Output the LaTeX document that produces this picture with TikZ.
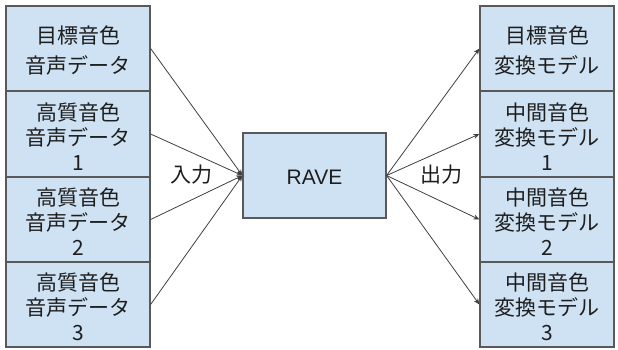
\documentclass[tikz,border=0pt]{standalone}
\usepackage{fontspec}
\newfontfamily\jpfont{Noto Sans CJK JP}
\newfontfamily\latinfont{Liberation Sans}
\usetikzlibrary{arrows.meta}
\definecolor{boxfill}{HTML}{CFE2F3}
\definecolor{boxline}{HTML}{595959}
\definecolor{txt}{HTML}{1E1E1E}
\definecolor{wire}{HTML}{404040}
\tikzset{
  cell/.style={draw=boxline, line width=1.2pt, fill=boxfill, inner sep=0pt},
  caption/.style={align=center, inner sep=0pt, text=txt, yshift=-2.5pt,
    font=\jpfont\fontsize{21}{30}\selectfont},
  tight/.style={font=\jpfont\fontsize{21}{25}\selectfont},
  wirearrow/.style={draw=wire, line width=0.8pt, -{Stealth[length=6pt,width=5pt]}},
  tag/.style={text=txt, font=\jpfont\fontsize{21}{24}\selectfont}
}
\begin{document}
\begin{tikzpicture}[x=1pt,y=-1pt]
\useasboundingbox (0,0) rectangle (618,349);
% input column
\node[cell, minimum width=144pt, minimum height=85pt] (in1) at (78,48.5) {};
\node[cell, minimum width=144pt, minimum height=86pt] (in2) at (78,134) {};
\node[cell, minimum width=144pt, minimum height=85pt] (in3) at (78,219.5) {};
\node[cell, minimum width=144pt, minimum height=85pt] (in4) at (78,304.5) {};
\node[caption] (in1t) at (in1.center) {目標音色\\音声データ};
\node[caption, tight] (in2t) at (in2.center) {高質音色\\音声データ\\1};
\node[caption, tight] (in3t) at (in3.center) {高質音色\\音声データ\\2};
\node[caption, tight] (in4t) at (in4.center) {高質音色\\音声データ\\3};
% model
\node[cell, minimum width=143pt, minimum height=85pt] (rave) at (314.5,175.5) {};
\node[caption, yshift=1pt, font=\latinfont\fontsize{21}{24}\selectfont] (ravet) at (rave.center) {RAVE};
% output column
\node[cell, minimum width=134pt, minimum height=85pt] (out1) at (547,48.5) {};
\node[cell, minimum width=134pt, minimum height=86pt] (out2) at (547,134) {};
\node[cell, minimum width=134pt, minimum height=85pt] (out3) at (547,219.5) {};
\node[cell, minimum width=134pt, minimum height=85pt] (out4) at (547,304.5) {};
\node[caption] (out1t) at (out1.center) {目標音色\\変換モデル};
\node[caption, tight] (out2t) at (out2.center) {中間音色\\変換モデル\\1};
\node[caption, tight] (out3t) at (out3.center) {中間音色\\変換モデル\\2};
\node[caption, tight] (out4t) at (out4.center) {中間音色\\変換モデル\\3};
% connectors
\foreach \n in {in1,in2,in3,in4} \draw[wirearrow] (\n.east) -- (rave.west);
\foreach \n in {out1,out2,out3,out4} \draw[wirearrow] (rave.east) -- (\n.west);
% labels
\node[tag] (lin) at (191,175) {入力};
\node[tag] (lout) at (441,175) {出力};
\end{tikzpicture}
\end{document}
